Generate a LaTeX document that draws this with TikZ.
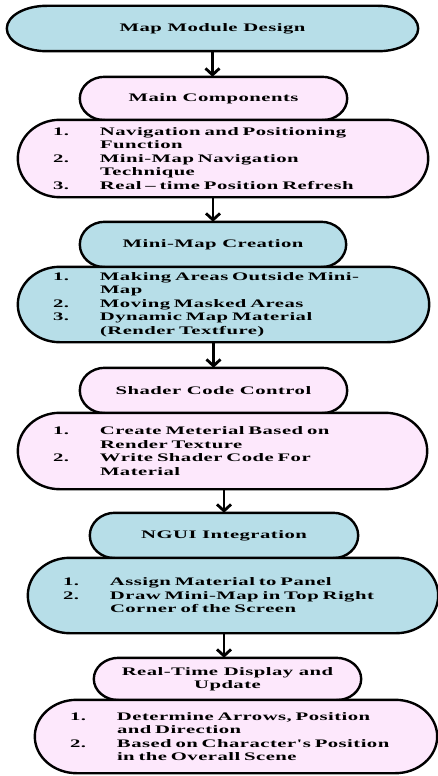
\documentclass[tikz,border=0pt]{standalone}
\usepackage{fontspec}
\usetikzlibrary{arrows.meta,calc,backgrounds}
\newfontfamily\boxfont{Liberation Serif}[FakeStretch=1.8,LetterSpace=4]
\definecolor{mapblue}{RGB}{183,222,232}
\definecolor{mappink}{RGB}{253,232,252}
\tikzstyle{title}=[inner sep=0pt,align=center,font={\boxfont\bfseries\fontsize{11.5pt}{13.5pt}\selectfont}]
\tikzstyle{steps}=[inner xsep=35pt,inner ysep=0pt,align=left,font={\boxfont\bfseries\fontsize{11.5pt}{13.5pt}\selectfont}]
\tikzstyle{outline}=[draw=black,line width=2.4pt]
\tikzstyle{flow}=[line width=2.8pt,-{Straight Barb[length=6.5pt,width=14pt]}]
\newcommand\li[2]{\makebox[47pt][l]{#1}#2}
\newcommand\lc[1]{\hspace*{47pt}#1}
\newcommand\capsule[3]{%
  \path[outline,fill=#2] let \p1=(#1.north), \p2=(#1.south), \n1={(\y1-\y2)/2} in
    ([xshift=#3]#1.north west) -- ([xshift=-#3]#1.north east)
    arc[start angle=90,end angle=-90,x radius=#3,y radius=\n1]
    -- ([xshift=#3]#1.south west)
    arc[start angle=270,end angle=90,x radius=#3,y radius=\n1] -- cycle;}

\begin{document}
\begin{tikzpicture}[x=1pt,y=1pt]
\useasboundingbox (0,0) rectangle (438,-776);

\node[title,minimum width=411pt,minimum height=45pt] (design) at (212.5,-28.5) {Map Module Design};
\node[title,minimum width=267pt,minimum height=43pt] (comps) at (213.5,-98.5) {Main Components};
\node[steps,text width=340pt,minimum height=77pt] (complist) at (223,-158.5)
  {\li{1.}{Navigation and Positioning}\\\lc{Function}\\\li{2.}{Mini-Map Navigation}\\\lc{Technique}\\\li{3.}{Real – time Position Refresh}};
\node[title,minimum width=266pt,minimum height=45pt] (minimap) at (213,-244.5) {Mini-Map Creation};
\node[steps,text width=341pt,minimum height=75pt] (minilist) at (223.5,-304.5)
  {\li{1.}{Making Areas Outside Mini-}\\\lc{Map}\\\li{2.}{Moving Masked Areas}\\\li{3.}{Dynamic Map Material}\\\lc{(Render Textfure)}};
\node[title,minimum width=267pt,minimum height=45pt] (shader) at (213.5,-390.5) {Shader Code Control};
\node[steps,text width=339pt,minimum height=76pt] (shaderlist) at (222.5,-451)
  {\li{1.}{Create Meterial Based on}\\\lc{Render Texture}\\\li{2.}{Write Shader Code For}\\\lc{Material}};
\node[title,minimum width=268pt,minimum height=45pt] (ngui) at (224,-535.5) {NGUI Integration};
\node[steps,text width=340pt,minimum height=75pt] (nguilist) at (233,-595.5)
  {\li{1.}{Assign Material to Panel}\\\li{2.}{Draw Mini-Map in Top Right}\\\lc{Corner of the Screen}};
\node[title,minimum width=267pt,minimum height=42pt] (display) at (227.5,-679) {Real-Time Display and\\Update};
\node[steps,text width=332pt,minimum height=73pt] (displaylist) at (236,-736.5)
  {\li{1.}{Determine Arrows, Position}\\\lc{and Direction}\\\li{2.}{Based on Character's Position}\\\lc{in the Overall Scene}};

\begin{pgfonlayer}{background}
\capsule{design}{mapblue}{40pt}
\capsule{comps}{mappink}{25pt}
\capsule{complist}{mappink}{42pt}
\capsule{minimap}{mapblue}{25pt}
\capsule{minilist}{mapblue}{42pt}
\capsule{shader}{mappink}{25pt}
\capsule{shaderlist}{mappink}{42pt}
\capsule{ngui}{mapblue}{25pt}
\capsule{nguilist}{mapblue}{42pt}
\capsule{display}{mappink}{25pt}
\capsule{displaylist}{mappink}{42pt}
\end{pgfonlayer}

\draw[flow] (design.south) -- (design.south |- comps.north);
\draw[flow] (complist.south -| minimap.north) -- (minimap.north);
\draw[flow] (minilist.south -| shader.north) -- (shader.north);
\draw[flow] (shaderlist.south -| ngui.north) -- (ngui.north);
\draw[flow] (nguilist.south -| ngui.north) -- (display.north -| ngui.north);
\end{tikzpicture}
\end{document}
